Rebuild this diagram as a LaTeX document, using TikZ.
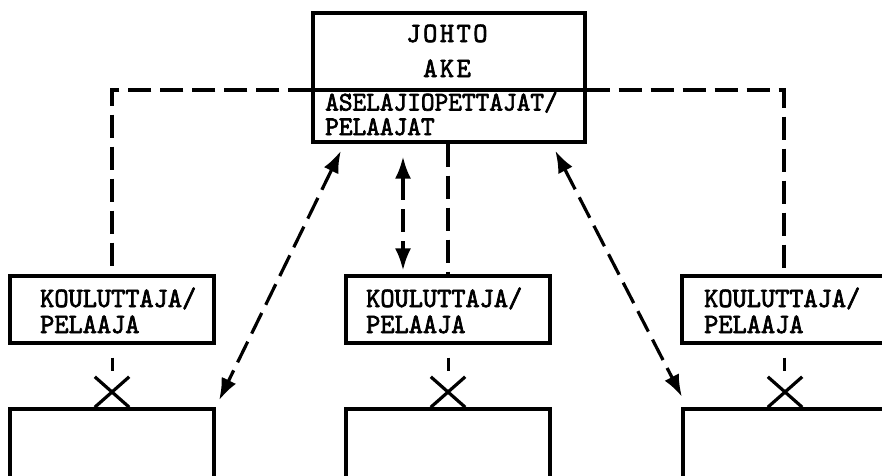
\documentclass[tikz,border=0pt]{standalone}
\usepackage{fontspec}
\newfontfamily\twfont{lmmono10-regular.otf}[FakeBold=2.5,FakeStretch=0.965]
\usetikzlibrary{arrows.meta}
\begin{document}
\begin{tikzpicture}[x=1pt,y=-1pt,
  boxst/.style={draw, line width=3.2pt, inner sep=0pt},
  kbox/.style={boxst, minimum width=204pt, minimum height=67pt},
  bbox/.style={boxst, minimum width=204pt, minimum height=131pt},
  lbl/.style={font=\fontsize{28}{26}\selectfont\twfont, inner sep=0pt, align=left},
  dashline/.style={line width=3.2pt, dash pattern=on 23pt off 9pt},
  darr/.style={dashline, {Latex[length=22pt,width=16pt]}-{Latex[length=22pt,width=16pt]}},
  ticklin/.style={line width=3pt},
  xmark/.style={minimum width=34pt, minimum height=30pt, inner sep=0pt},
  xline/.style={line width=3.2pt}
]
\useasboundingbox (0,0) rectangle (882,475);

% top box
\node[boxst, minimum width=272pt, minimum height=129pt] (top) at (449,77.5) {};
\draw[line width=3.2pt] (top.west |- 0,90) -- (top.east |- 0,90);
\node[lbl, anchor=base] (t1) at (447,42) {\addfontfeature{LetterSpace=9}JOHTO};
\node[lbl, anchor=base] (t2) at (447,77) {\addfontfeature{LetterSpace=9}AKE};
\node[lbl, anchor=base west, font=\fontsize{27}{24.5}\selectfont\twfont] (t3) at (325,135) {ASELAJIOPETTAJAT/\\PELAAJAT};

% kouluttaja boxes
\node[kbox] (k1) at (112,309.5) {};
\node[kbox] (k2) at (448,309.5) {};
\node[kbox] (k3) at (784,309.5) {};
\node[lbl, anchor=base west] (l1) at (40,333) {KOULUTTAJA/\\PELAAJA};
\node[lbl, anchor=base west] (l2) at (366,333) {KOULUTTAJA/\\PELAAJA};
\node[lbl, anchor=base west] (l3) at (704,333) {KOULUTTAJA/\\PELAAJA};

% bottom boxes
\node[bbox] (b1) at (112,474.5) {};
\node[bbox] (b2) at (448,474.5) {};
\node[bbox, minimum width=210pt] (b3) at (788,474.5) {};

% X marks
\node[xmark] (x1) at (112,392) {};
\node[xmark] (x2) at (448,392) {};
\node[xmark] (x3) at (785,392) {};
\foreach \n in {x1,x2,x3}{
  \draw[xline] (\n.south west) -- (\n.north east) (\n.north west) -- (\n.south east);
}

% ticks
\foreach \k/\x in {k1/x1,k2/x2,k3/x3}{
  \draw[ticklin, shorten <=13pt, shorten >=6pt] (\k.south) -- (\k.south |- \x.north);
}

% dashed lines from the top box
\draw[dashline] (top.west |- 0,90) -| (k1.north);
\draw[dashline] (top.east |- 0,90) -| (k3.north);
\draw[dashline] (k2.north |- top.south) -- (k2.north);

% double arrows
\draw[darr, shorten <=13pt, shorten >=4pt] ([xshift=-46pt]top.south) -- ([xshift=-45pt]k2.north);
\draw[darr, shorten <=8pt, shorten >=8pt] ([xshift=33pt]top.south west) -- (b1.north east);
\draw[darr, shorten <=8pt, shorten >=12pt] ([xshift=-35pt]top.south east) -- ([xshift=6pt]b3.north west);
\end{tikzpicture}
\end{document}
